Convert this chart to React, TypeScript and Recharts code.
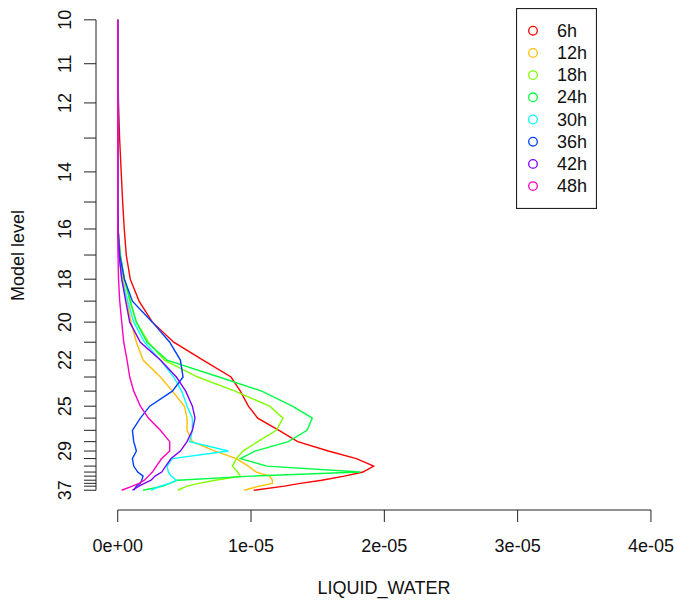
import { LineChart, Line, XAxis, YAxis, ReferenceLine, Legend } from 'recharts';

// model levels and their (approximate) height in km
const levels = [10, 11, 12, 13, 14, 15, 16, 17, 18, 19, 20, 21, 22, 23, 24, 25, 26, 27, 28, 29, 30, 31, 32, 33, 34, 35, 36, 37];
const levelHeight = [15.0, 13.6, 12.35, 11.23, 10.15, 9.19, 8.33, 7.5, 6.73, 6.03, 5.36, 4.72, 4.15, 3.61, 3.16, 2.68, 2.3, 1.91, 1.55, 1.25, 1.01, 0.77, 0.58, 0.45, 0.32, 0.22, 0.13, 0];
const labelledLevels = [10, 11, 12, 14, 16, 18, 20, 22, 25, 29, 37];
const xTicks = [0, 1e-5, 2e-5, 3e-5, 4e-5];

const hours = ['6h', '12h', '18h', '24h', '30h', '36h', '42h', '48h'];
const colors = ['#FF0000', '#FFBF00', '#80FF00', '#00FF40', '#00FFFF', '#0040FF', '#8000FF', '#FF00BF'];

// liquid water, in units of 1e-05, one value per level (10..37)
const lw6h = [0, 0.001, 0.006, 0.014, 0.026, 0.037, 0.049, 0.064, 0.094, 0.16, 0.26, 0.42, 0.64, 0.85, 0.92, 0.98, 1.05, 1.21, 1.35, 1.58, 1.79, 1.92, 1.84, 1.7, 1.53, 1.37, 1.25, 1.02];
const lw12h = [0, 0, 0, 0, 0, 0, 0.003, 0.017, 0.04, 0.07, 0.1, 0.14, 0.19, 0.32, 0.41, 0.5, 0.52, 0.52, 0.56, 0.73, 0.89, 0.98, 1.04, 1.14, 1.16, 1.16, 1.06, 0.95];
const lw18h = [0, 0, 0, 0, 0, 0, 0.002, 0.02, 0.05, 0.09, 0.14, 0.23, 0.35, 0.6, 0.88, 1.14, 1.24, 1.19, 1.05, 0.94, 0.89, 0.86, 0.9, 0.92, 0.73, 0.61, 0.52, 0.45];
const lw24h = [0, 0, 0, 0, 0, 0, 0.002, 0.02, 0.05, 0.095, 0.14, 0.22, 0.37, 0.76, 1.08, 1.31, 1.46, 1.42, 1.28, 1.03, 0.92, 1.12, 1.82, 1.0, 0.45, 0.39, 0.34, 0.19];
const lw30h = [0, 0, 0, 0, 0, 0, 0.002, 0.01, 0.03, 0.075, 0.12, 0.2, 0.32, 0.42, 0.48, 0.52, 0.56, 0.56, 0.54, 0.83, 0.41, 0.37, 0.38, 0.4, 0.44, 0.39, 0.32, 0.25];
const lw36h = [0, 0, 0, 0, 0, 0, 0.003, 0.015, 0.05, 0.11, 0.26, 0.39, 0.47, 0.49, 0.41, 0.24, 0.17, 0.11, 0.12, 0.14, 0.11, 0.12, 0.15, 0.19, 0.18, 0.17, 0.14, 0.12];
const lw42h = [0, 0, 0, 0, 0, 0, 0.002, 0.01, 0.03, 0.06, 0.09, 0.17, 0.32, 0.44, 0.51, 0.56, 0.58, 0.56, 0.52, 0.47, 0.4, 0.36, 0.33, 0.28, 0.25, 0.2, 0.16, 0.11];
const lw48h = [0, 0, 0, 0, 0, 0, 0, 0.002, 0.006, 0.015, 0.03, 0.045, 0.07, 0.09, 0.12, 0.17, 0.23, 0.32, 0.39, 0.39, 0.33, 0.29, 0.26, 0.23, 0.2, 0.16, 0.11, 0.03];

const series = [lw6h, lw12h, lw18h, lw24h, lw30h, lw36h, lw42h, lw48h];

const rows = levels.map((level, i) => {
  const row: Record<string, number> = { level, h: levelHeight[i] };
  hours.forEach((hr, k) => {
    row[hr] = series[k][i] * 1e-5;
  });
  return row;
});

const X_MIN = -0.163e-5;
const X_MAX = 4.158e-5;
const Y_MIN = -0.63;
const Y_MAX = 15.6;

const FONT = '"Liberation Sans", Arial, sans-serif';
const INK = '#222';

function sciLabel(v: number) {
  const [m, e] = v.toExponential(0).split('e');
  return `${m}e${e[0]}${e.slice(1).padStart(2, '0')}`;
}

function XTick(props: any) {
  const { x, y, payload } = props;
  return (
    <text x={x} y={y + 22} textAnchor="middle" dominantBaseline="central" fontFamily={FONT} fontSize={18} fill="#111">
      {sciLabel(payload.value)}
    </text>
  );
}

function YTick(props: any) {
  const { x, y, payload } = props;
  const level = levels[levelHeight.indexOf(payload.value)];
  if (!labelledLevels.includes(level)) return <g />;
  const tx = x - 17;
  return (
    <text
      x={tx}
      y={y}
      transform={`rotate(-90 ${tx} ${y})`}
      textAnchor="middle"
      dominantBaseline="central"
      fontFamily={FONT}
      fontSize={18}
      fill="#111"
    >
      {level}
    </text>
  );
}

function LegendBox() {
  return (
    <svg width={81} height={201}>
      <rect x={0.5} y={0.5} width={80} height={200} fill="#fff" stroke={INK} strokeWidth={1.2} />
      {hours.map((hr, i) => {
        const cy = 22.7 + i * 22.2;
        return (
          <g key={hr}>
            <circle cx={17} cy={cy} r={4.3} fill="none" stroke={colors[i]} strokeWidth={1.3} />
            <text x={41} y={cy} dominantBaseline="central" fontFamily={FONT} fontSize={18} fill="#111">
              {hr}
            </text>
          </g>
        );
      })}
    </svg>
  );
}

export default function App() {
  return (
    <div style={{ position: 'absolute', left: 0, top: 0, width: 675, height: 602, background: '#fff' }}>
      <LineChart
        layout="vertical"
        width={675}
        height={602}
        data={rows}
        margin={{ top: 1, right: 3, bottom: 0, left: 0 }}
      >
        <XAxis
          type="number"
          domain={[X_MIN, X_MAX]}
          allowDataOverflow
          ticks={xTicks}
          interval={0}
          height={92}
          axisLine={false}
          tickSize={12}
          tickLine={{ stroke: INK }}
          tick={<XTick />}
          label={(p: any) => {
            const vb = p.viewBox || {};
            return (
              <text
                x={vb.x + vb.width / 2}
                y={594}
                textAnchor="middle"
                fontFamily={FONT}
                fontSize={18}
                fill="#111"
              >
                LIQUID_WATER
              </text>
            );
          }}
        />
        <YAxis
          type="number"
          dataKey="h"
          reversed
          domain={[Y_MIN, Y_MAX]}
          allowDataOverflow
          ticks={levelHeight}
          interval={0}
          width={96}
          axisLine={false}
          tickSize={12}
          tickLine={{ stroke: INK }}
          tick={<YTick />}
          label={(p: any) => {
            const vb = p.viewBox || {};
            const cy = vb.y + vb.height / 2;
            return (
              <text
                x={18}
                y={cy}
                transform={`rotate(-90 18 ${cy})`}
                textAnchor="middle"
                dominantBaseline="central"
                fontFamily={FONT}
                fontSize={18}
                fill="#111"
              >
                Model level
              </text>
            );
          }}
        />
        <ReferenceLine
          segment={[{ x: 0, y: Y_MIN }, { x: 4e-5, y: Y_MIN }]}
          stroke={INK}
          ifOverflow="visible"
        />
        <ReferenceLine
          segment={[{ x: X_MIN, y: levelHeight[0] }, { x: X_MIN, y: levelHeight[levelHeight.length - 1] }]}
          stroke={INK}
          ifOverflow="visible"
        />
        {hours.map((hr, k) => (
          <Line
            key={hr}
            type="linear"
            dataKey={hr}
            name={hr}
            stroke={colors[k]}
            strokeWidth={1.4}
            dot={false}
            activeDot={false}
            isAnimationActive={false}
          />
        ))}
        <Legend
          layout="horizontal"
          verticalAlign="middle"
          wrapperStyle={{ left: 516, top: 8, width: 81, height: 201 }}
          content={LegendBox}
        />
      </LineChart>
    </div>
  );
}
